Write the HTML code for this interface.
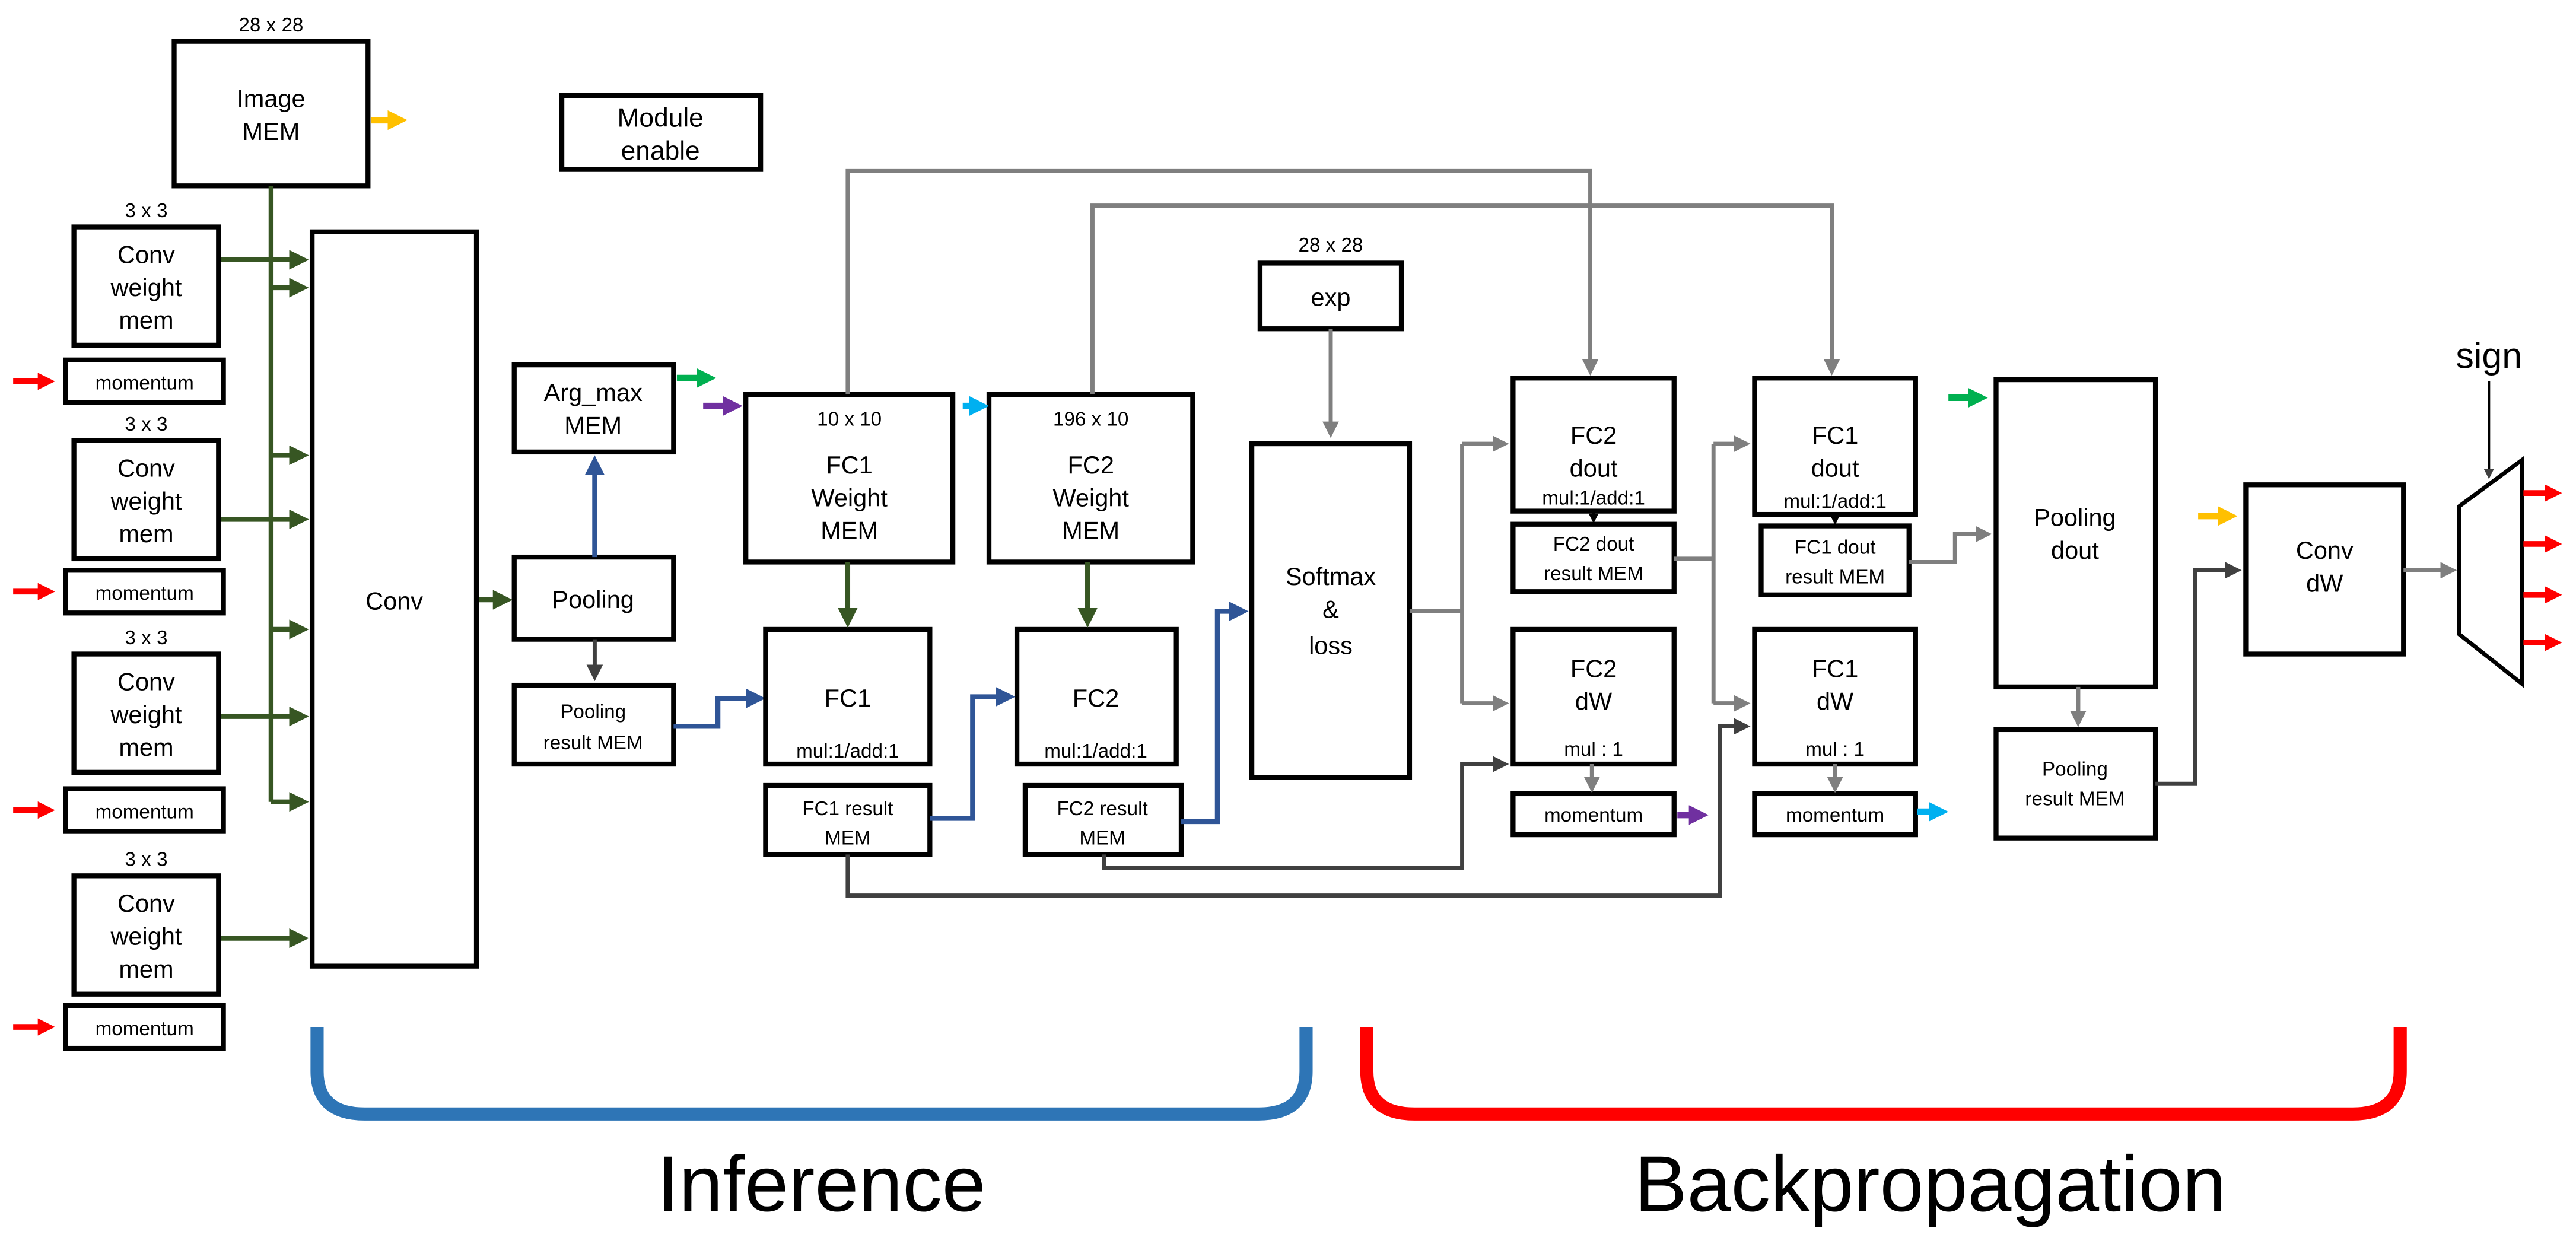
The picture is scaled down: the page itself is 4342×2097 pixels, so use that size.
<!DOCTYPE html>
<html><head><meta charset="utf-8"><style>
html,body{margin:0;padding:0;background:#fff;}
svg{display:block;}
text{font-family:"Liberation Sans",sans-serif;fill:#000;text-anchor:middle;}
.b{fill:#fff;stroke:#000;stroke-width:3;}
.t{font-size:15px;}
.s{font-size:12px;}
.g{stroke:#375623;stroke-width:3;fill:none;}
.bl{stroke:#2f5597;stroke-width:3;fill:none;}
.gr{stroke:#7f7f7f;stroke-width:2.5;fill:none;}
.dk{stroke:#404040;stroke-width:2.5;fill:none;}
</style></head><body>
<svg width="4342" height="2097" viewBox="0 0 1568 757" xmlns="http://www.w3.org/2000/svg">
<defs>
<marker id="ag" markerWidth="4" markerHeight="4" refX="3" refY="2" orient="auto"><path d="M0,0L4,2L0,4z" fill="#375623"/></marker>
<marker id="ab" markerWidth="4" markerHeight="4" refX="3" refY="2" orient="auto"><path d="M0,0L4,2L0,4z" fill="#2f5597"/></marker>
<marker id="agr" markerWidth="4" markerHeight="4" refX="3" refY="2" orient="auto"><path d="M0,0L4,2L0,4z" fill="#7f7f7f"/></marker>
<marker id="adk" markerWidth="4" markerHeight="4" refX="3" refY="2" orient="auto"><path d="M0,0L4,2L0,4z" fill="#404040"/></marker>
<marker id="ak" markerWidth="4" markerHeight="4" refX="3" refY="2" orient="auto"><path d="M0,0L4,2L0,4z" fill="#000"/></marker>
<marker id="ar" markerWidth="3" markerHeight="3" refX="2" refY="1.5" orient="auto"><path d="M0,0L3,1.5L0,3z" fill="#ff0000"/></marker>
<marker id="ay" markerWidth="3" markerHeight="3" refX="2" refY="1.5" orient="auto"><path d="M0,0L3,1.5L0,3z" fill="#ffc000"/></marker>
<marker id="agn" markerWidth="3" markerHeight="3" refX="2" refY="1.5" orient="auto"><path d="M0,0L3,1.5L0,3z" fill="#00b050"/></marker>
<marker id="ap" markerWidth="3" markerHeight="3" refX="2" refY="1.5" orient="auto"><path d="M0,0L3,1.5L0,3z" fill="#7030a0"/></marker>
<marker id="ac" markerWidth="3" markerHeight="3" refX="2" refY="1.5" orient="auto"><path d="M0,0L3,1.5L0,3z" fill="#00b0f0"/></marker>
</defs>

<text x="165" y="19" class="s">28 x 28</text>
<rect x="106" y="25" width="118" height="88" class="b"/>
<text x="165" y="65" class="t">Image</text><text x="165" y="85" class="t">MEM</text>
<line x1="226" y1="73" x2="244" y2="73" stroke="#ffc000" stroke-width="4" marker-end="url(#ay)"/>

<rect x="342" y="58" width="121" height="45" class="b"/>
<text x="402" y="77" font-size="16">Module</text><text x="402" y="97" font-size="16">enable</text>

<line x1="165" y1="113" x2="165" y2="488" class="g"/>
<g class="g" marker-end="url(#ag)">
<line x1="133" y1="158" x2="185" y2="158"/>
<line x1="165" y1="175" x2="185" y2="175"/>
<line x1="165" y1="277" x2="185" y2="277"/>
<line x1="133" y1="316" x2="185" y2="316"/>
<line x1="165" y1="383" x2="185" y2="383"/>
<line x1="133" y1="436" x2="185" y2="436"/>
<line x1="165" y1="488" x2="185" y2="488"/>
<line x1="133" y1="571" x2="185" y2="571"/>
<line x1="290" y1="365" x2="309" y2="365"/>
</g>

<g>
<text x="89" y="132" class="s">3 x 3</text>
<rect x="45" y="138" width="88" height="72" class="b"/>
<text x="89" y="160" class="t">Conv</text><text x="89" y="180" class="t">weight</text><text x="89" y="200" class="t">mem</text>
<rect x="40" y="219" width="96" height="26" class="b"/><text x="88" y="237" class="s">momentum</text>

<text x="89" y="262" class="s">3 x 3</text>
<rect x="45" y="268" width="88" height="72" class="b"/>
<text x="89" y="290" class="t">Conv</text><text x="89" y="310" class="t">weight</text><text x="89" y="330" class="t">mem</text>
<rect x="40" y="347" width="96" height="26" class="b"/><text x="88" y="365" class="s">momentum</text>

<text x="89" y="392" class="s">3 x 3</text>
<rect x="45" y="398" width="88" height="72" class="b"/>
<text x="89" y="420" class="t">Conv</text><text x="89" y="440" class="t">weight</text><text x="89" y="460" class="t">mem</text>
<rect x="40" y="480" width="96" height="26" class="b"/><text x="88" y="498" class="s">momentum</text>

<text x="89" y="527" class="s">3 x 3</text>
<rect x="45" y="533" width="88" height="72" class="b"/>
<text x="89" y="555" class="t">Conv</text><text x="89" y="575" class="t">weight</text><text x="89" y="595" class="t">mem</text>
<rect x="40" y="612" width="96" height="26" class="b"/><text x="88" y="630" class="s">momentum</text>
</g>
<g stroke="#ff0000" stroke-width="3.5" marker-end="url(#ar)">
<line x1="8" y1="232" x2="30" y2="232"/>
<line x1="8" y1="360" x2="30" y2="360"/>
<line x1="8" y1="493" x2="30" y2="493"/>
<line x1="8" y1="625" x2="30" y2="625"/>
</g>

<rect x="190" y="141" width="100" height="447" class="b"/>
<text x="240" y="371" class="t">Conv</text>

<rect x="313" y="222" width="97" height="53" class="b"/>
<text x="361" y="244" class="t">Arg_max</text><text x="361" y="264" class="t">MEM</text>
<rect x="313" y="339" width="97" height="50" class="b"/>
<text x="361" y="370" class="t">Pooling</text>
<rect x="313" y="417" width="97" height="48" class="b"/>
<text x="361" y="437" class="s">Pooling</text><text x="361" y="456" class="s">result MEM</text>
<line x1="362" y1="339" x2="362" y2="280" class="bl" marker-end="url(#ab)"/>
<line x1="362" y1="389" x2="362" y2="412" class="dk" marker-end="url(#adk)"/>
<line x1="412" y1="230" x2="432" y2="230" stroke="#00b050" stroke-width="4" marker-end="url(#agn)"/>
<polyline points="410,442 437,442 437,425 463,425" class="bl" marker-end="url(#ab)"/>

<rect x="454" y="240" width="126" height="102" class="b"/>
<text x="517" y="259" class="s">10 x 10</text>
<text x="517" y="288" class="t">FC1</text><text x="517" y="308" class="t">Weight</text><text x="517" y="328" class="t">MEM</text>
<line x1="428" y1="247" x2="448" y2="247" stroke="#7030a0" stroke-width="4" marker-end="url(#ap)"/>
<rect x="602" y="240" width="124" height="102" class="b"/>
<text x="664" y="259" class="s">196 x 10</text>
<text x="664" y="288" class="t">FC2</text><text x="664" y="308" class="t">Weight</text><text x="664" y="328" class="t">MEM</text>
<line x1="586" y1="247" x2="598" y2="247" stroke="#00b0f0" stroke-width="4" marker-end="url(#ac)"/>

<rect x="466" y="383" width="100" height="82" class="b"/>
<text x="516" y="430" class="t">FC1</text><text x="516" y="461" class="s">mul:1/add:1</text>
<rect x="466" y="478" width="100" height="42" class="b"/>
<text x="516" y="496" class="s">FC1 result</text><text x="516" y="514" class="s">MEM</text>
<rect x="619" y="383" width="97" height="82" class="b"/>
<text x="667" y="430" class="t">FC2</text><text x="667" y="461" class="s">mul:1/add:1</text>
<rect x="624" y="478" width="95" height="42" class="b"/>
<text x="671" y="496" class="s">FC2 result</text><text x="671" y="514" class="s">MEM</text>
<line x1="516" y1="342" x2="516" y2="379" class="g" marker-end="url(#ag)"/>
<line x1="662" y1="342" x2="662" y2="379" class="g" marker-end="url(#ag)"/>
<polyline points="566,498 592,498 592,424 615,424" class="bl" marker-end="url(#ab)"/>
<polyline points="719,500 741,500 741,372 757,372" class="bl" marker-end="url(#ab)"/>

<text x="810" y="153" class="s">28 x 28</text>
<rect x="767" y="160" width="86" height="40" class="b"/>
<text x="810" y="186" class="t">exp</text>
<line x1="810" y1="200" x2="810" y2="264" class="gr" marker-end="url(#agr)"/>
<rect x="762" y="270" width="96" height="203" class="b"/>
<text x="810" y="356" class="t">Softmax</text><text x="810" y="376" class="t">&amp;</text><text x="810" y="398" class="t">loss</text>

<polyline points="516,240 516,104 968,104 968,226" class="gr" marker-end="url(#agr)"/>
<polyline points="665,240 665,125 1115,125 1115,226" class="gr" marker-end="url(#agr)"/>

<line x1="858" y1="372" x2="890" y2="372" class="gr"/>
<line x1="890" y1="270" x2="890" y2="428" class="gr"/>
<line x1="890" y1="270" x2="916" y2="270" class="gr" marker-end="url(#agr)"/>
<line x1="890" y1="428" x2="916" y2="428" class="gr" marker-end="url(#agr)"/>
<polyline points="672,520 672,528 890,528 890,465 916,465" class="dk" stroke-width="1.8" marker-end="url(#adk)"/>
<polyline points="516,520 516,545 1047,545 1047,442 1063,442" class="dk" stroke-width="1.8" marker-end="url(#adk)"/>

<rect x="921" y="230" width="98" height="81" class="b"/>
<text x="970" y="270" class="t">FC2</text><text x="970" y="290" class="t">dout</text><text x="970" y="307" class="s">mul:1/add:1</text>
<line x1="970" y1="311" x2="970" y2="317" stroke="#000" stroke-width="1.5" marker-end="url(#ak)"/>
<rect x="921" y="319" width="98" height="41" class="b"/>
<text x="970" y="335" class="s">FC2 dout</text><text x="970" y="353" class="s">result MEM</text>
<rect x="921" y="383" width="98" height="82" class="b"/>
<text x="970" y="412" class="t">FC2</text><text x="970" y="432" class="t">dW</text><text x="970" y="460" class="s">mul : 1</text>
<rect x="921" y="483" width="98" height="25" class="b"/><text x="970" y="500" class="s">momentum</text>
<line x1="969" y1="465" x2="969" y2="480" class="gr" marker-end="url(#agr)"/>
<line x1="1021" y1="496" x2="1036" y2="496" stroke="#7030a0" stroke-width="4" marker-end="url(#ap)"/>

<line x1="1019" y1="340" x2="1043" y2="340" class="gr"/>
<line x1="1043" y1="270" x2="1043" y2="428" class="gr"/>
<line x1="1043" y1="270" x2="1063" y2="270" class="gr" marker-end="url(#agr)"/>
<line x1="1043" y1="428" x2="1063" y2="428" class="gr" marker-end="url(#agr)"/>

<rect x="1068" y="230" width="98" height="83" class="b"/>
<text x="1117" y="270" class="t">FC1</text><text x="1117" y="290" class="t">dout</text><text x="1117" y="309" class="s">mul:1/add:1</text>
<line x1="1117" y1="313" x2="1117" y2="318" stroke="#000" stroke-width="1.5" marker-end="url(#ak)"/>
<rect x="1072" y="320" width="90" height="42" class="b"/>
<text x="1117" y="337" class="s">FC1 dout</text><text x="1117" y="355" class="s">result MEM</text>
<rect x="1068" y="383" width="98" height="82" class="b"/>
<text x="1117" y="412" class="t">FC1</text><text x="1117" y="432" class="t">dW</text><text x="1117" y="460" class="s">mul : 1</text>
<rect x="1068" y="483" width="98" height="25" class="b"/><text x="1117" y="500" class="s">momentum</text>
<line x1="1117" y1="465" x2="1117" y2="480" class="gr" marker-end="url(#agr)"/>
<line x1="1167" y1="494" x2="1182" y2="494" stroke="#00b0f0" stroke-width="4" marker-end="url(#ac)"/>

<line x1="1186" y1="242" x2="1206" y2="242" stroke="#00b050" stroke-width="4" marker-end="url(#agn)"/>
<polyline points="1162,342 1190,342 1190,325 1210,325" class="gr" marker-end="url(#agr)"/>
<rect x="1215" y="231" width="97" height="187" class="b"/>
<text x="1263" y="320" class="t">Pooling</text><text x="1263" y="340" class="t">dout</text>
<rect x="1215" y="444" width="97" height="66" class="b"/>
<text x="1263" y="472" class="s">Pooling</text><text x="1263" y="490" class="s">result MEM</text>
<line x1="1265" y1="418" x2="1265" y2="440" class="gr" stroke-width="1.8" marker-end="url(#agr)"/>

<line x1="1338" y1="314" x2="1358" y2="314" stroke="#ffc000" stroke-width="4" marker-end="url(#ay)"/>
<polyline points="1312,477 1336,477 1336,347 1362,347" class="dk" stroke-width="1.8" marker-end="url(#adk)"/>
<rect x="1367" y="295" width="96" height="103" class="b"/>
<text x="1415" y="340" class="t">Conv</text><text x="1415" y="360" class="t">dW</text>
<line x1="1463" y1="347" x2="1493" y2="347" class="gr" stroke-width="1.5" marker-end="url(#agr)"/>

<polygon points="1497,308 1535,280 1535,416 1497,386" fill="#fff" stroke="#000" stroke-width="2.5"/>
<text x="1515" y="224" font-size="22">sign</text>
<line x1="1515" y1="232" x2="1515" y2="290" stroke="#000" stroke-width="1.5" marker-end="url(#adk)"/>
<g stroke="#ff0000" stroke-width="3.5" marker-end="url(#ar)">
<line x1="1536" y1="300" x2="1556" y2="300"/>
<line x1="1536" y1="331" x2="1556" y2="331"/>
<line x1="1536" y1="362" x2="1556" y2="362"/>
<line x1="1536" y1="391" x2="1556" y2="391"/>
</g>

<path d="M193,625 L193,652 Q193,678 222,678 L766,678 Q795,678 795,652 L795,625" fill="none" stroke="#2e75b6" stroke-width="8"/>
<path d="M832,625 L832,652 Q832,678 861,678 L1432,678 Q1461,678 1461,652 L1461,625" fill="none" stroke="#ff0000" stroke-width="8"/>
<text x="500" y="737" font-size="48">Inference</text>
<text x="1175" y="737" font-size="48">Backpropagation</text>
</svg>
</body></html>
